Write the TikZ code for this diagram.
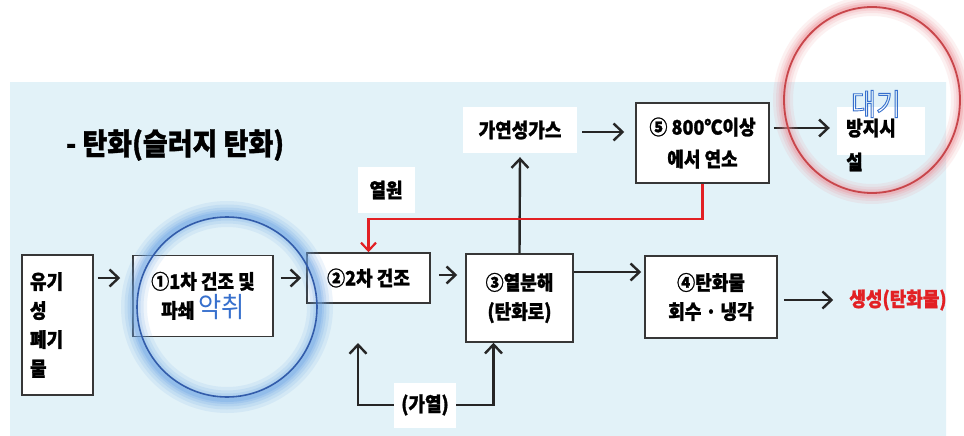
\documentclass[tikz,border=0pt]{standalone}
\usepackage{fontspec}
\setmainfont{Noto Sans CJK KR}[BoldFont={Noto Sans CJK KR Black}, BoldFeatures={FakeBold=1.2}, FakeStretch=0.9]
\usetikzlibrary{arrows.meta,calc}
\definecolor{panelA}{RGB}{226,242,248}
\definecolor{panelB}{RGB}{242,249,252}
\definecolor{boxline}{RGB}{55,55,55}
\definecolor{redline}{RGB}{226,32,36}
\definecolor{bluetxt}{RGB}{55,112,205}
\definecolor{bluecirc}{RGB}{50,92,170}
\definecolor{blueglow}{RGB}{110,165,230}
\definecolor{redcirc}{RGB}{200,70,75}
\definecolor{redglow}{RGB}{238,140,148}
\newcommand{\outlinetext}[1]{\special{pdf:literal direct 1 Tr 0.9 w}#1\special{pdf:literal direct 0 Tr}}
\tikzset{
  stepbox/.style={draw=boxline, line width=1.5, fill=white, align=center, inner sep=0,
    font=\fontsize{20}{29}\selectfont\bfseries},
  plainbg/.style={fill=white, draw=none, align=center, inner sep=0,
    font=\fontsize{20}{29}\selectfont\bfseries},
  arr/.style={draw=black!85, line width=2.4, -{Straight Barb[length=9,width=17,line width=2.4]}},
  redarr/.style={draw=redline, line width=2.2, -{Straight Barb[length=8,width=15,line width=2.2]}},
}
\begin{document}
\begin{tikzpicture}[x=1pt,y=-1pt]
\useasboundingbox (0,0) rectangle (964,436);
\fill[white] (0,0) rectangle (964,436);
\shade[top color=panelA, middle color=panelB, bottom color=panelA] (10,83) rectangle (946,436);

% title
\node[font=\fontsize{30}{34}\selectfont\bfseries, inner sep=0] (title) at (175,145) {- 탄화(슬러지 탄화)};

% boxes
\node[stepbox, minimum width=71, minimum height=140, text width=55, align=left] (src) at (57.5,325) {유기\\성\\폐기\\물};
\node[stepbox, minimum width=140, minimum height=81] (n1) at (203,296) {①1차 건조 및\\파쇄 {\color{bluetxt}\fontsize{28}{29}\selectfont\mdseries 악취}};
\node[stepbox, minimum width=123, minimum height=50] (n2) at (368.5,278) {②2차 건조};
\node[stepbox, minimum width=107, minimum height=88] (n3) at (519.5,298) {③열분해\\(탄화로)};
\node[stepbox, minimum width=132, minimum height=82] (n4) at (711,297) {④탄화물\\회수 · 냉각};
\node[font=\fontsize{20}{22}\selectfont\bfseries, text=redline, inner sep=0] (out) at (898,300) {생성(탄화물)};
\node[plainbg, minimum width=114, minimum height=46] (gas) at (520,130) {가연성가스};
\node[stepbox, minimum width=133, minimum height=80, font=\fontsize{20}{32}\selectfont\bfseries] (n5) at (702.5,143) {⑤ 800℃이상\\에서 연소};
\node[plainbg, minimum width=88, minimum height=48] (air) at (881,131) {};
\node[font=\fontsize{20}{34}\selectfont\bfseries, align=left, inner sep=0, anchor=west] (airtxt) at (846,145) {방지시\\설};
\node[plainbg, minimum width=57, minimum height=46] (heatsrc) at (386,190) {열원};
\node[plainbg, minimum width=62, minimum height=45] (heat) at (425,405) {(가열)};

% connectors
\draw[arr] ($(src.east|-n1.west)+(4,-18)$) -- ($(n1.west)+(-12,-18)$);
\draw[arr] ($(n1.east)+(7,-18)$) -- ($(n2.west|-n1.east)+(-5,-18)$);
\draw[arr] ($(n2.east)+(8,-3)$) -- ($(n3.west|-n2.east)+(-8,-3)$);
\draw[arr] ($(n3.east)+(0,-26)$) -- ($(n4.west|-n3.east)+(-3,-26)$);
\draw[arr] ($(n4.east)+(6,3)$) -- ($(out.west)+(-16,0)$);
\draw[arr] (n3.north) -- ($(gas.south)+(0,4)$);
\draw[arr] ($(gas.east)+(5,2)$) -- ($(n5.west|-gas.east)+(-11,2)$);
\draw[arr] ($(n5.east)+(4,-15)$) -- ($(air.west|-n5.east)+(-7,-15)$);
\coordinate (rj) at (0,219);
\draw[redarr] (n5.south) |- (rj -| n2.north) -- (n2.north);
\coordinate (lt) at (358,343);
\draw[arr] (heat.west) -| (lt);
\draw[arr] (heat.east) -| ($(n3.south)+(-26,0)$);

% blue highlight circle
\foreach \w/\o in {26/0.12, 19/0.15, 13/0.18, 8/0.22, 4/0.3} {
  \draw[blueglow, line width=\w, opacity=\o] (227,307) circle (93);
}
\draw[bluecirc, line width=1.6] (227,307) circle (90);

% red highlight circle
\foreach \w/\o in {20/0.12, 14/0.15, 9/0.2, 5/0.3} {
  \draw[redglow, line width=\w, opacity=\o] (872,100) circle [x radius=89, y radius=94];
}
\draw[redcirc, line width=1.8] (872,100) circle [x radius=88, y radius=93];

\node[font=\fontsize{30}{32}\selectfont, text=bluetxt, inner sep=0] (daegi) at (876,104) {\outlinetext{대기}};
\end{tikzpicture}
\end{document}
